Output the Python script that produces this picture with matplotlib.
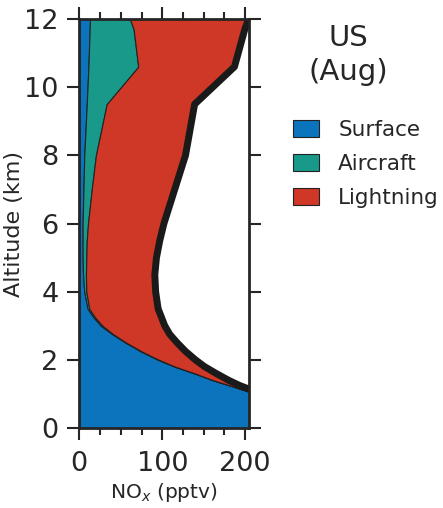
import matplotlib.pyplot as plt
import numpy as np

# altitude levels (km) and NOx contribution of each source (pptv)
alt = [0, 0.5, 1.0, 1.1, 1.25, 1.4, 1.6, 1.8, 2.0, 2.25, 2.5, 2.75, 3.0,
       3.25, 3.5, 4.0, 4.5, 5.0, 5.5, 6.0, 7.0, 8.0, 9.5, 10.6, 11.7, 12.0]
surface = [400, 300, 213, 200, 181, 161, 139, 115, 95, 74, 56, 40, 26,
           17, 10, 6, 4.5, 4, 4, 4, 5, 6, 9, 11, 12.5, 13]
aircraft = [0.5, 0.5, 0.5, 0.5, 0.5, 0.5, 0.5, 0.5, 1, 1, 1, 1, 2,
            2, 2, 2.5, 3.5, 4.5, 5, 6.5, 10, 14, 24, 60, 53, 48]
lightning = [19.5, 19.5, 12.5, 8.5, 11.5, 18.5, 25.5, 35.5, 44, 53, 61, 68, 75,
             80, 83, 83.5, 83, 84.5, 88, 91.5, 100, 108, 106, 116, 134, 143]

labels = ['Surface', 'Aircraft', 'Lightning']
colors = ['#0b74bd', '#18998a', '#cf3726']

dark = '#262626'
plt.rcParams['text.color'] = dark
plt.rcParams['axes.labelcolor'] = dark
plt.rcParams['xtick.color'] = dark
plt.rcParams['ytick.color'] = dark

fig = plt.figure(figsize=(4.43, 5.08), dpi=100)
ax = fig.add_axes([0.179, 0.1575, 0.383, 0.805])

lower = np.zeros(len(alt))
for vals, lab, col in zip([surface, aircraft, lightning], labels, colors):
    upper = lower + np.array(vals)
    ax.fill_betweenx(alt, lower, upper, facecolor=col, edgecolor='#222222',
                     linewidth=0.8, label=lab)
    lower = upper

# total
ax.plot(lower, alt, color='#1a1a1a', linewidth=5, solid_capstyle='butt')

ax.set_xlim(0, 204.5)
ax.set_ylim(0, 12)
ax.set_xticks([0, 100, 200])
ax.set_xticks(np.arange(0, 201, 25), minor=True)
ax.set_yticks(np.arange(0, 13, 2))
ax.tick_params(which='both', top=True, right=True, direction='out', width=1.5)
ax.tick_params(which='major', length=8.5, labelsize=19.5)
ax.tick_params(which='minor', length=5)
ax.tick_params(axis='x', which='major', pad=8)
ax.tick_params(axis='y', which='major', pad=6.5)
for sp in ax.spines.values():
    sp.set_linewidth(2)
    sp.set_color(dark)
    sp.set_zorder(5)

ax.set_xlabel('NO$_x$ (pptv)', fontsize=14.5, labelpad=3)
ax.set_ylabel('Altitude (km)', fontsize=16, labelpad=0)

fig.text(348 / 443, 1 - 55 / 508, 'US\n(Aug)', ha='center', va='center',
         fontsize=21, linespacing=1.25)
fig.legend(loc='center left', bbox_to_anchor=(293 / 443, 1 - 164 / 508),
           frameon=False, fontsize=15.5, borderpad=0, borderaxespad=0,
           handlelength=1.2, handleheight=0.8, handletextpad=0.9,
           labelspacing=0.65)

fig.savefig('out.png', dpi=100)
